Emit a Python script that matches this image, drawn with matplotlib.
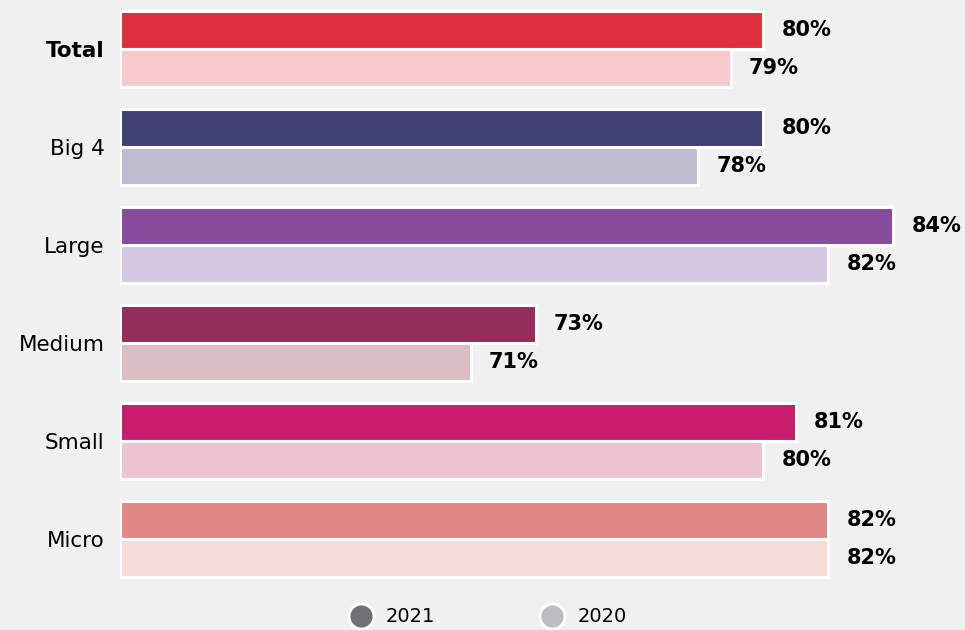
import matplotlib
matplotlib.use('Agg')
import matplotlib.pyplot as plt
from matplotlib.lines import Line2D

plt.rcParams['font.family'] = ['DejaVu Sans']

# Дані
categories = ['Total', 'Big 4', 'Large', 'Medium', 'Small', 'Micro']
values_2021 = [80, 80, 84, 73, 81, 82]
values_2020 = [79, 78, 82, 71, 80, 82]
colors_2021 = ['#e02f3c', '#414174', '#884a9a', '#952d5c', '#c81d6c', '#e08885']
colors_2020 = ['#f7c9cd', '#c0bcd0', '#d7c8e2', '#dbbdc4', '#ecc3d1', '#f6dcd9']
legend_labels = ['2021', '2020']
legend_colors = ['#707075', '#bdbdbf']

BG = '#f0f0f0'
BASE = 60.2  # ліва межа осі X
BAR_H = 0.385

fig = plt.figure(figsize=(9.65, 6.3), dpi=100, facecolor=BG)
ax = fig.add_axes([120 / 965, 1 - 588 / 630, 845 / 965, 588 / 630])
ax.set_facecolor(BG)

y_pos = list(range(len(categories)))
w21 = [v - BASE for v in values_2021]
w20 = [v - BASE for v in values_2020]
bars21 = ax.barh([y - BAR_H / 2 for y in y_pos], w21, left=BASE, height=BAR_H,
                 color=colors_2021, edgecolor='white', linewidth=2.2)
bars20 = ax.barh([y + BAR_H / 2 for y in y_pos], w20, left=BASE, height=BAR_H,
                 color=colors_2020, edgecolor='white', linewidth=2.2)

for bars, vals in ((bars21, values_2021), (bars20, values_2020)):
    for bar, v in zip(bars, vals):
        ax.text(v + 0.55, bar.get_y() + bar.get_height() / 2, f'{v}%',
                ha='left', va='center', fontsize=15, fontweight='bold', color='black')

ax.set_xlim(BASE, BASE + 845 / 32.5)
ax.set_ylim(len(categories) - 0.5, -0.5)
ax.set_yticks(y_pos)
ax.set_yticklabels(categories, fontsize=15.5)
ax.get_yticklabels()[0].set_fontweight('bold')
ax.tick_params(axis='y', length=0, pad=11)
ax.set_xticks([])
for s in ax.spines.values():
    s.set_visible(False)

handles = [Line2D([], [], marker='o', linestyle='none', markersize=18,
                  markerfacecolor=c, markeredgecolor='white', markeredgewidth=2)
           for c in legend_colors]
fig.legend(handles, legend_labels, loc='center', bbox_to_anchor=(484 / 965, 1 - 617 / 630),
           ncol=2, frameon=False, fontsize=14, columnspacing=5.0, handletextpad=0.3)

fig.savefig('out.png', dpi=100, facecolor=BG)
